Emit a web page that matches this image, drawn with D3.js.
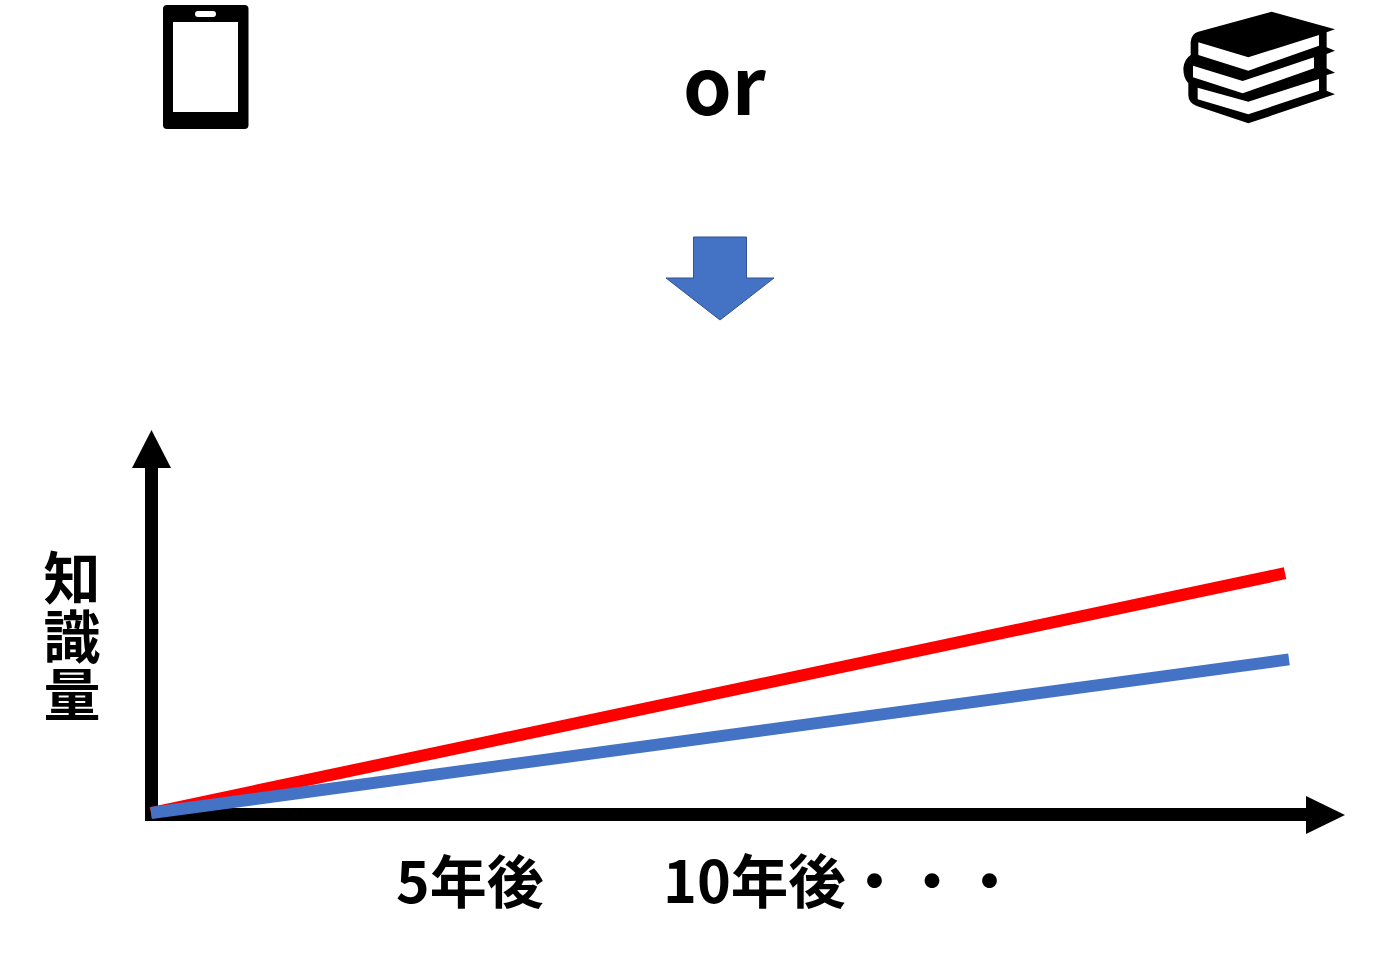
<!DOCTYPE html>
<html><head><meta charset="utf-8">
<script src="https://cdn.jsdelivr.net/npm/d3@7/dist/d3.min.js"></script>
<style>html,body{margin:0;padding:0;background:#fff}svg{display:block}
text{font-family:"Noto Sans CJK JP","Noto Sans",sans-serif;font-weight:700;fill:#000}</style>
</head><body><svg id="c" width="1385" height="954"></svg>
<script>
const phoneProgress = [0, 100];
const bookProgress = [0, 99.65];
const phoneReaderValues = [0, 40.1];
const bookReaderValues = [0, 62.6];
const seriesColors = ["#ff0000", "#4472c4"];
const xTickLabels = ["5年後", "10年後・・・"];
const yLabel = "知識量";

const svg = d3.select("#c");
const x = d3.scaleLinear().domain([0, 100]).range([151, 1289]);
const y = d3.scaleLinear().domain([0, 100]).range([813, 430]);

// axes
svg.append("path").attr("d","M151.5 818V468M145 814.5H1306").attr("stroke","#000").attr("stroke-width",13).attr("fill","none");
svg.append("path").attr("d","M132 468L151.5 430L171 468Z").attr("fill","#000");
svg.append("path").attr("d","M1306 796L1345 815L1306 834Z").attr("fill","#000");

// series
const drawSeries = (xs, vs, color) => {
  const line = d3.line().x((d,i)=>x(xs[i])).y(d=>y(d));
  svg.append("path").datum(vs).attr("d",line).attr("fill","none")
    .attr("stroke",color).attr("stroke-width",12);
};
drawSeries(bookProgress, bookReaderValues, seriesColors[0]);
drawSeries(phoneProgress, phoneReaderValues, seriesColors[1]);

// labels
svg.append("text").attr("x",683).attr("y",115).attr("font-size",78).text("or");
svg.append("text").attr("x",396).attr("y",903).attr("font-size",57).text(xTickLabels[0]);
svg.append("text").attr("x",663).attr("y",903).attr("font-size",57.5).text(xTickLabels[1]);
svg.append("text").attr("x",72).attr("y",549).attr("font-size",57)
  .style("writing-mode","vertical-rl").style("letter-spacing","1.5px").text(yLabel);

// down arrow
svg.append("path").attr("d","M693.5 237H746.5V278H774L720 320L666 278H693.5Z")
  .attr("fill","#4472c4").attr("stroke","#2f528f").attr("stroke-width",1);

// phone icon
svg.append("rect").attr("x",163).attr("y",5).attr("width",85.5).attr("height",124).attr("rx",4).attr("fill","#000");
svg.append("rect").attr("x",173).attr("y",22).attr("width",65).attr("height",90).attr("fill","#fff");
svg.append("rect").attr("x",195).attr("y",11).attr("width",21).attr("height",6).attr("rx",3).attr("fill","#fff");

// books icon
const g = svg.append("g").attr("transform","translate(1170,0) scale(0.3333)");
g.append("path").attr("fill","#000").attr("d","M305 35L495 88L470 97V142L495 152L470 162V205L495 218L470 225V272L495 283L235 370L80 318Q55 308 55 285V250Q40 235 40 205Q42 178 62 165V125Q65 100 85 95Z");
["M85 127L235 172L447 105V137L235 212L85 165Z",
 "M69 197L218 243L432 172V205L218 280L69 232Z",
 "M83 263L235 305L447 237V272L235 343L83 298Z"].forEach(d=>g.append("path").attr("fill","#fff").attr("d",d));
</script></body></html>
